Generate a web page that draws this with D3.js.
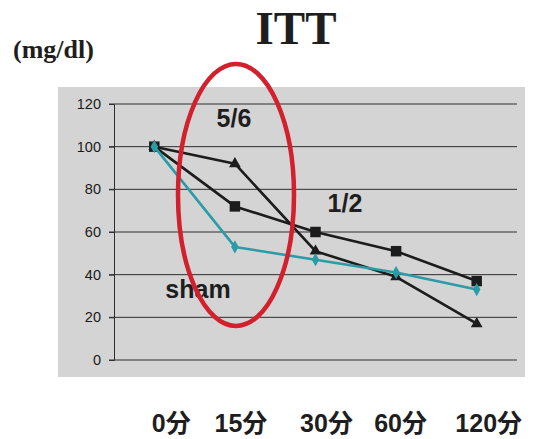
<!DOCTYPE html>
<html>
<head>
<meta charset="utf-8">
<script src="https://cdn.jsdelivr.net/npm/d3@7/dist/d3.min.js"></script>
<style>
  html, body { margin: 0; padding: 0; background: #ffffff; }
  svg { display: block; }
</style>
</head>
<body>
<svg id="chart" width="535" height="439"></svg>
<script>
// Time points and blood glucose (mg/dl) during the insulin tolerance test
const categories = ["0分", "15分", "30分", "60分", "120分"];
const yTicks = [0, 20, 40, 60, 80, 100, 120];
const seriesNames = ["5/6", "1/2", "sham"];
const nx56 = [100, 92, 51, 39, 17];
const nx12 = [100, 72, 60, 51, 37];
const sham = [100, 53, 47, 41, 33];

const svg = d3.select("#chart");

// Plot frame
const plot = { left: 114, right: 517, top: 104, bottom: 360 };

const x = d3.scaleBand().domain(categories).range([plot.left, plot.right]);
const y = d3.scaleLinear().domain([0, 120]).range([plot.bottom, plot.top]);
const cx = c => x(c) + x.bandwidth() / 2;

// Grey chart area
svg.append("rect")
  .attr("x", 58).attr("y", 87)
  .attr("width", 467).attr("height", 290)
  .attr("fill", "#d4d4d4");

// Horizontal gridlines
svg.append("g")
  .selectAll("line")
  .data(yTicks)
  .join("line")
  .attr("x1", plot.left - 5).attr("x2", plot.right)
  .attr("y1", d => y(d)).attr("y2", d => y(d))
  .attr("stroke", "#2e2e2e").attr("stroke-width", 1);

// Value axis
const yAxis = d3.axisLeft(y).tickValues(yTicks).tickSize(5).tickPadding(8);
const gy = svg.append("g").attr("transform", `translate(${plot.left},0)`).call(yAxis);
gy.attr("font-size", null).attr("font-family", null);
gy.select(".domain").attr("stroke", "#2e2e2e");
gy.selectAll(".tick line").attr("stroke", "#2e2e2e");
gy.selectAll("text")
  .attr("font-family", "Liberation Sans, Arial, sans-serif")
  .attr("font-size", 14.5)
  .attr("fill", "#1a1a1a");

// Lines and markers
const line = d3.line()
  .x((d, i) => cx(categories[i]))
  .y(d => y(d));

const series = [
  { name: "5/6", values: nx56, color: "#1c1c1c", symbol: d3.symbolTriangle, size: 60 },
  { name: "1/2", values: nx12, color: "#1c1c1c", symbol: d3.symbolSquare, size: 110 },
  { name: "sham", values: sham, color: "#2a9ca6", symbol: d3.symbolDiamond, size: 50 }
];

series.forEach(s => {
  svg.append("path")
    .datum(s.values)
    .attr("d", line)
    .attr("fill", "none")
    .attr("stroke", s.color)
    .attr("stroke-width", 2.6)
    .attr("stroke-linejoin", "round");
  svg.append("g")
    .selectAll("path")
    .data(s.values)
    .join("path")
    .attr("transform", (d, i) => `translate(${cx(categories[i])},${y(d)})`)
    .attr("d", d3.symbol().type(s.symbol).size(s.size))
    .attr("fill", s.color);
});

// Series labels
const labelFont = "Liberation Sans, Arial, sans-serif";
const seriesLabels = [
  { text: seriesNames[0], x: 234, y: 127 },
  { text: seriesNames[1], x: 345, y: 212 },
  { text: seriesNames[2], x: 198, y: 298 }
];
svg.append("g")
  .selectAll("text")
  .data(seriesLabels)
  .join("text")
  .attr("x", d => d.x).attr("y", d => d.y)
  .attr("text-anchor", "middle")
  .attr("font-family", labelFont)
  .attr("font-weight", "bold")
  .attr("font-size", 25)
  .attr("fill", "#1e1e1e")
  .text(d => d.text);

// Red ellipse highlighting the 15-minute point
svg.append("ellipse")
  .attr("cx", 236).attr("cy", 195)
  .attr("rx", 58).attr("ry", 131)
  .attr("fill", "none")
  .attr("stroke", "#d2202c")
  .attr("stroke-width", 4.5);

// Category labels below the chart (hand-nudged from the band centres)
const labelNudge = [17, 6, 11, 4.5, 12];
svg.append("g")
  .selectAll("text")
  .data(categories)
  .join("text")
  .attr("x", (d, i) => cx(d) + labelNudge[i])
  .attr("y", 432)
  .attr("text-anchor", "middle")
  .attr("font-family", "Liberation Sans, 'Noto Sans CJK JP', sans-serif")
  .attr("font-weight", "bold")
  .attr("font-size", 25)
  .attr("fill", "#1e1e1e")
  .text(d => d);

// Title and unit
svg.append("text")
  .attr("x", 296).attr("y", 44)
  .attr("text-anchor", "middle")
  .attr("font-family", "Liberation Serif, 'Times New Roman', serif")
  .attr("font-weight", "bold")
  .attr("font-size", 47)
  .attr("fill", "#1e1e1e")
  .text("ITT");

svg.append("text")
  .attr("x", 13).attr("y", 58)
  .attr("font-family", "Liberation Serif, 'Times New Roman', serif")
  .attr("font-weight", "bold")
  .attr("font-size", 26)
  .attr("fill", "#1e1e1e")
  .text("(mg/dl)");
</script>
</body>
</html>
